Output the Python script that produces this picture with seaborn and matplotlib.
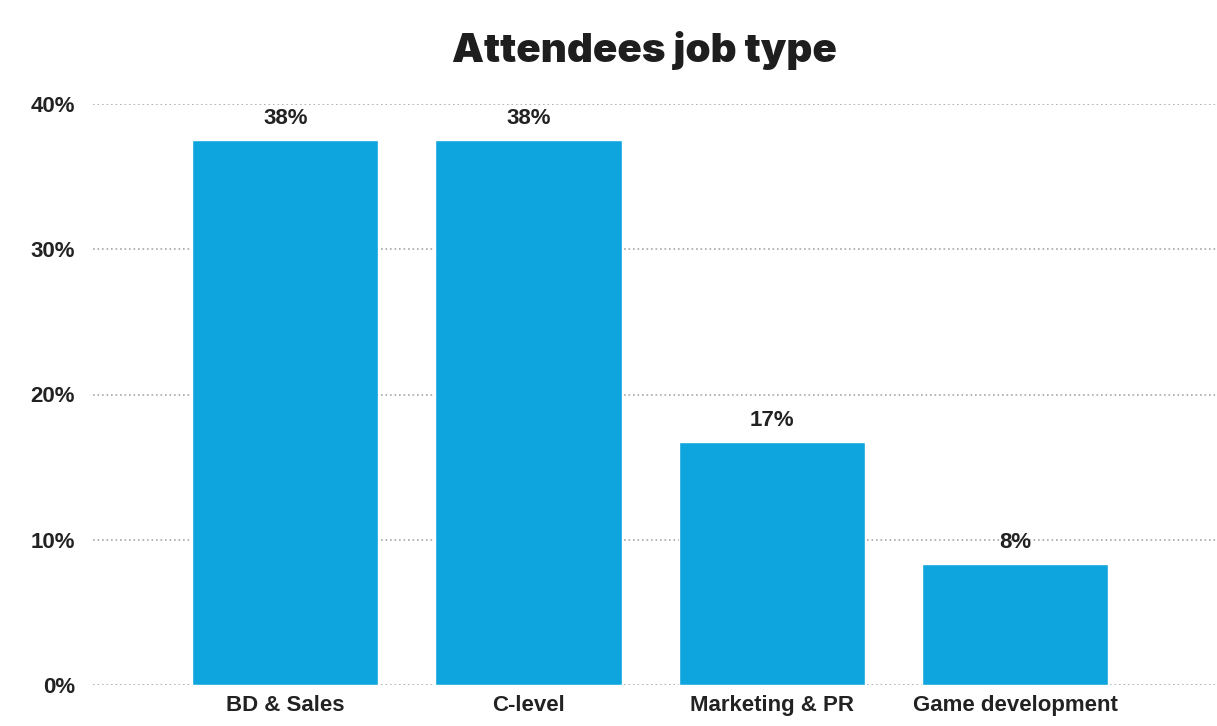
import matplotlib
matplotlib.use("Agg")
import matplotlib.pyplot as plt
import seaborn as sns
import pandas as pd

# dados do grafico
job_types = ["BD & Sales", "C-level", "Marketing & PR", "Game development"]
shares = [37.5, 37.5, 16.7, 8.3]
y_ticks = [0, 10, 20, 30, 40]

df = pd.DataFrame({"job": job_types, "share": shares})

sns.set_theme(style="white")
plt.rcParams["font.family"] = ["Liberation Sans", "DejaVu Sans"]

fig = plt.figure(figsize=(12.17, 7.26), dpi=100)
ax = fig.add_axes([93 / 1217, 1 - 685 / 726, 1 - 93 / 1217, (685 - 104) / 726])

sns.barplot(data=df, x="job", y="share", color="#0ea5de", saturation=1,
            width=0.765, ax=ax, zorder=3)

# rotulos em cima das barras
for i, v in enumerate(shares):
    ax.annotate(f"{v:.0f}%", (i, v), xytext=(0, 8), textcoords="offset points",
                ha="center", va="bottom", fontsize=16, fontweight="bold",
                color="#222222")

ax.set_ylim(0, 40)
ax.set_xlim(-0.79, 3.83)
ax.set_yticks(y_ticks)
ax.set_yticklabels([f"{t}%" for t in y_ticks])
ax.yaxis.grid(True, linestyle=(0, (1, 1.7)), color="#a8a8a8", linewidth=1.2, zorder=0)
ax.xaxis.grid(False)
for s in ax.spines.values():
    s.set_visible(False)
ax.tick_params(axis="y", length=0, pad=13, labelsize=16, labelcolor="#222222")
ax.tick_params(axis="x", length=0, pad=7, labelsize=16, labelcolor="#222222")
for lbl in ax.get_xticklabels() + ax.get_yticklabels():
    lbl.set_fontweight("bold")
ax.set_xlabel("")
ax.set_ylabel("")

fig.text(644 / 1217, 1 - 50 / 726, "Attendees job type", ha="center", va="center",
         fontsize=29, fontweight="black", family=["Inter", "DejaVu Sans"], color="#1e1e1e")

plt.savefig("out.png", dpi=100)
